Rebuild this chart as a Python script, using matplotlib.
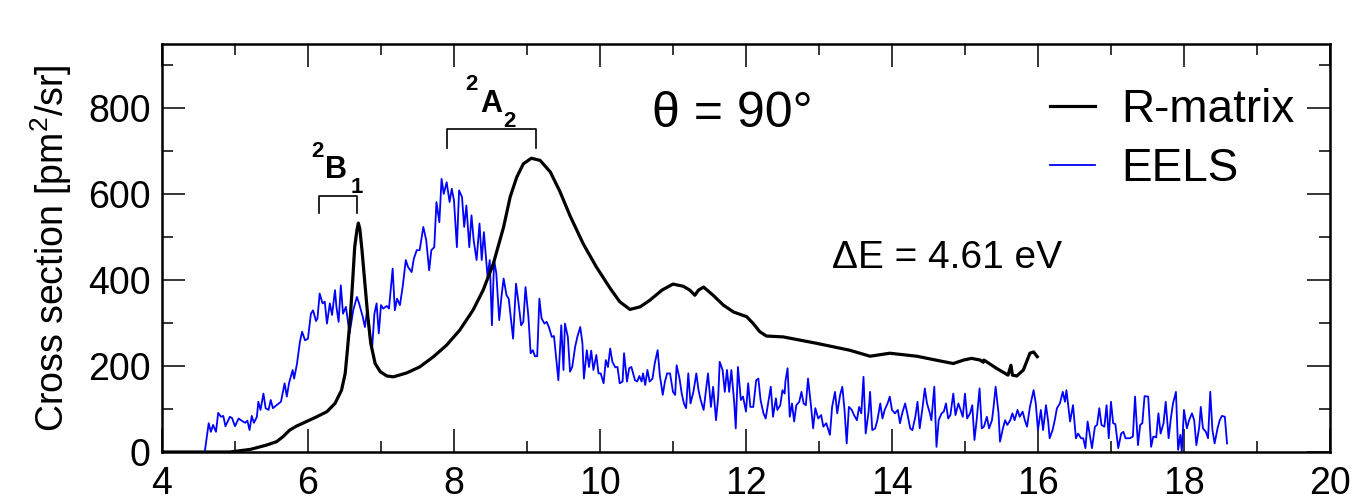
import matplotlib
matplotlib.use("Agg")
import matplotlib.pyplot as plt
from matplotlib.ticker import MultipleLocator

plt.rcParams['font.family'] = ['Liberation Sans', 'DejaVu Sans']
plt.rcParams['mathtext.fontset'] = 'custom'
plt.rcParams['mathtext.rm'] = 'Liberation Sans'
plt.rcParams['mathtext.default'] = 'regular'

# R-matrix cross section (eV, pm^2/sr)
rm_energy = [4.0, 4.5, 4.93, 5.21, 5.43, 5.57, 5.66, 5.75, 5.84, 5.98,
             6.12, 6.26, 6.37, 6.46, 6.51, 6.54, 6.58, 6.61, 6.64, 6.67,
             6.69, 6.71, 6.74, 6.78, 6.82, 6.86, 6.92, 6.99, 7.08, 7.17,
             7.35, 7.53, 7.72, 7.90, 8.08, 8.26, 8.40, 8.54, 8.68, 8.77,
             8.86, 8.95, 9.06, 9.18, 9.32, 9.45, 9.59, 9.77, 9.95,
             10.14, 10.27, 10.41, 10.55, 10.68, 10.85, 11.00, 11.14, 11.23, 11.30,
             11.35, 11.42, 11.55, 11.69, 11.83, 12.01, 12.10, 12.19, 12.28, 12.51,
             12.97, 13.42, 13.70, 13.97, 14.34, 14.66, 14.84, 14.98, 15.09, 15.21,
             15.25, 15.26, 15.43, 15.59, 15.63, 15.65, 15.71, 15.80, 15.89, 15.94,
             15.99]
rm_xs = [0, 0, 0, 6, 16, 24, 36, 51, 60, 71,
         82, 94, 113, 144, 183, 237, 315, 392, 477, 516,
         533, 520, 470, 392, 315, 253, 206, 187, 177, 175,
         184, 198, 222, 249, 284, 330, 377, 439, 524, 594,
         640, 671, 684, 679, 652, 607, 550, 485, 431,
         381, 350, 332, 338, 353, 377, 391, 386, 377, 365,
         377, 384, 365, 342, 326, 315, 299, 280, 270, 268,
         253, 237, 223, 230, 223, 212, 206, 214, 218, 214,
         209, 214, 195, 179, 202, 179, 177, 191, 230, 233,
         222]

# EELS measurement
eels_energy = [
    4.59, 4.64, 4.67, 4.70, 4.74, 4.77, 4.81, 4.84, 4.87, 4.93, 4.96, 5.00, 5.05, 5.09, 5.14, 5.17, 5.20, 5.23, 5.26, 5.30,
    5.32, 5.35, 5.39, 5.42, 5.46, 5.49, 5.52, 5.57, 5.63, 5.68, 5.71, 5.74, 5.79, 5.81, 5.85, 5.89, 5.92, 5.96, 6.00, 6.04,
    6.07, 6.11, 6.13, 6.16, 6.20, 6.23, 6.26, 6.30, 6.33, 6.37, 6.39, 6.42, 6.45,
    6.48, 6.52, 6.57, 6.62, 6.67, 6.70, 6.75, 6.78, 6.81, 6.85, 6.88, 6.91, 6.94, 6.97, 7.00, 7.03, 7.08, 7.11, 7.16, 7.19,
    7.22, 7.26, 7.30, 7.34, 7.37, 7.42, 7.45, 7.49, 7.53, 7.58, 7.62, 7.66, 7.69, 7.73, 7.76, 7.80, 7.83, 7.86, 7.90, 7.94,
    7.97, 8.00, 8.04, 8.07, 8.11, 8.14, 8.17, 8.21, 8.24, 8.27, 8.31, 8.35, 8.38, 8.41,
    8.46, 8.49, 8.52, 8.55, 8.58, 8.62, 8.65, 8.68, 8.72, 8.75, 8.81, 8.85, 8.88, 8.92, 8.95, 8.98, 9.02, 9.05, 9.08, 9.11,
    9.14, 9.17, 9.20, 9.24, 9.27, 9.30, 9.34, 9.37, 9.43, 9.47, 9.50, 9.52, 9.56, 9.59, 9.62, 9.66, 9.69, 9.73, 9.76, 9.78,
    9.82, 9.85, 9.88, 9.91, 9.95, 9.98, 10.01, 10.05, 10.08, 10.11, 10.14, 10.17, 10.21, 10.24, 10.27, 10.31, 10.33, 10.37, 10.40, 10.43,
    10.48, 10.51, 10.54, 10.57, 10.59, 10.62, 10.65, 10.68, 10.72, 10.75, 10.79, 10.82, 10.86, 10.89, 10.92, 10.96, 11.00, 11.03, 11.05, 11.09,
    11.12, 11.15, 11.18, 11.21, 11.24, 11.28, 11.32, 11.35, 11.38, 11.42, 11.45, 11.48, 11.52, 11.55, 11.59, 11.62, 11.64, 11.68, 11.71, 11.74,
    11.77, 11.80, 11.84, 11.86, 11.89, 11.93, 11.96, 12.00, 12.03, 12.06, 12.10, 12.14, 12.17, 12.20, 12.24, 12.27, 12.31, 12.34, 12.37, 12.41,
    12.43,
    12.47, 12.50, 12.53, 12.54, 12.57, 12.60, 12.63, 12.66, 12.69, 12.73, 12.76, 12.79, 12.82, 12.85, 12.89, 12.92, 12.95, 12.99, 13.03, 13.06,
    13.10, 13.13, 13.15, 13.18, 13.22, 13.25, 13.29, 13.32, 13.35, 13.38, 13.41, 13.45, 13.48, 13.52, 13.55, 13.58, 13.61, 13.64, 13.68, 13.70,
    13.73, 13.77, 13.80, 13.84, 13.87, 13.90, 13.94, 13.97, 14.00, 14.04, 14.08, 14.11, 14.14, 14.18, 14.21, 14.25, 14.28, 14.32, 14.35, 14.38,
    14.42,
    14.45, 14.48, 14.52, 14.54, 14.58, 14.61, 14.64, 14.68, 14.71, 14.74, 14.77, 14.80, 14.84, 14.87, 14.91, 14.94, 14.97, 15.00, 15.03, 15.07,
    15.10, 15.13, 15.16, 15.20, 15.23, 15.26, 15.30, 15.33, 15.37, 15.39, 15.42, 15.46, 15.48, 15.52, 15.55, 15.58, 15.62, 15.65, 15.68, 15.72,
    15.75, 15.79, 15.82, 15.85, 15.89, 15.94, 15.97, 16.00, 16.04, 16.07, 16.11, 16.14, 16.16, 16.20, 16.23, 16.26, 16.30, 16.34, 16.37, 16.39,
    16.44, 16.48, 16.52, 16.55, 16.59, 16.62, 16.65, 16.68, 16.71, 16.74, 16.78, 16.81, 16.84, 16.87, 16.91, 16.94, 16.97, 17.00, 17.03, 17.06,
    17.10, 17.14, 17.17, 17.20, 17.26, 17.30, 17.33, 17.37, 17.40, 17.43, 17.46, 17.51, 17.55, 17.58, 17.62, 17.65, 17.68, 17.72, 17.75, 17.79,
    17.82, 17.85, 17.89, 17.92, 17.95, 17.97, 18.00, 18.04, 18.07, 18.11, 18.14, 18.17, 18.21, 18.23, 18.26, 18.30, 18.33, 18.36, 18.39, 18.42,
    18.46, 18.49, 18.52, 18.56, 18.59]
eels_xs = [
    5, 67, 47, 63, 47, 91, 82, 84, 60, 82, 79, 60, 78, 73, 68, 73, 51, 84, 68, 82,
    117, 98, 136, 102, 98, 121, 102, 109, 117, 160, 129, 160, 191, 171, 206, 257, 280, 260, 264, 322,
    330, 305, 311, 369, 346, 350, 299, 346, 319, 377, 338, 303, 388,
    322, 338, 276, 330, 361, 346, 315, 291, 330, 268, 245, 322, 346, 276, 342, 334, 340, 334, 427, 330,
    357, 342, 388, 447, 431, 419, 450, 470, 470, 524, 493, 423, 470, 477, 582, 535, 636, 601, 628, 582,
    613, 586, 477, 609, 594, 524, 574, 477, 551, 493, 447, 532, 447, 512,
    408, 447, 295, 447, 416, 307, 361, 404, 365, 357, 264, 392, 353, 295, 303, 384, 315, 230, 237, 223,
    223, 357, 311, 299, 303, 291, 268, 270, 167, 295, 191, 299, 268, 187, 198, 245, 268, 291, 253, 171,
    237, 198, 236, 191, 226, 183, 183, 160, 214, 198, 241, 210, 197, 198, 160, 164, 230, 164, 195, 198,
    167, 164, 177, 164, 183, 156, 191, 164, 171, 206, 237, 179, 133, 164, 183, 183, 140, 133, 202, 171,
    136, 113, 102, 183, 113, 140, 183, 144, 121, 98, 140, 183, 105, 152, 74, 129, 210, 191, 140, 191,
    140, 191, 113, 55, 198, 121, 129, 94, 160, 105, 105, 167, 171, 121, 90, 78, 121, 152, 82, 125,
    98,
    109, 144, 136, 164, 195, 82, 113, 71, 109, 117, 140, 113, 109, 171, 109, 55, 102, 78, 86, 59,
    67, 51, 40, 105, 140, 90, 133, 152, 98, 20, 105, 98, 86, 74, 105, 90, 175, 43, 94, 140,
    51, 55, 74, 113, 78, 98, 113, 129, 98, 90, 98, 67, 90, 113, 90, 55, 51, 82, 117, 55,
    105,
    148, 113, 90, 74, 152, 12, 74, 90, 94, 113, 78, 86, 136, 86, 113, 98, 82, 136, 78, 90,
    109, 28, 74, 148, 55, 59, 82, 55, 74, 102, 152, 90, 24, 55, 74, 63, 74, 90, 74, 98,
    82, 94, 74, 59, 105, 144, 113, 51, 98, 51, 109, 71, 32, 51, 74, 102, 113, 140, 117, 144,
    71, 109, 32, 43, 32, 32, 9, 71, 40, 9, 59, 63, 102, 63, 59, 109, 32, 117, 67, 65,
    9, 43, 47, 32, 32, 36, 129, 16, 63, 67, 130, 129, 12, 36, 34, 90, 43, 67, 117, 32,
    78, 113, 140, 5, 40, 1, 98, 55, 74, 90, 74, 16, 59, 105, 55, 47, 32, 140, 51, 20,
    55, 74, 84, 82, 20]

# resonance brackets
b1_x = [6.15, 6.15, 6.67, 6.67]
b1_y = [556, 595, 595, 556]
a2_x = [7.90, 7.90, 9.12, 9.12]
a2_y = [707, 751, 751, 707]

fig = plt.figure(figsize=(13.52, 5.03), dpi=100)
ax = fig.add_axes([0.1198, 0.1014, 0.8639, 0.8111])

ax.plot(rm_energy, rm_xs, color='black', lw=2.3, label='R-matrix', zorder=3,
        solid_joinstyle='round')
ax.plot(eels_energy, eels_xs, color='#0000ff', lw=1.3, label='EELS', zorder=2)

ax.plot(b1_x, b1_y, color='black', lw=1.2)
ax.plot(a2_x, a2_y, color='black', lw=1.2)

# state labels: superscript multiplicity, symmetry letter, subscript
bold = dict(fontweight='bold', ha='left', va='baseline')
ax.text(6.04, 686, '2', fontsize=16, **bold)
ax.text(6.23, 637, 'B', fontsize=22, **bold)
ax.text(6.58, 602, '1', fontsize=16, **bold)
ax.text(8.15, 842, '2', fontsize=16, **bold)
ax.text(8.36, 791, 'A', fontsize=22, **bold)
ax.text(8.68, 756, '2', fontsize=16, **bold)

ax.text(10.71, 756, 'θ = 90°', fontsize=36, ha='left', va='baseline')
ax.text(13.18, 428, 'ΔE = 4.61 eV', fontsize=28, ha='left', va='baseline')

ax.set_xlim(4, 20)
ax.set_ylim(0, 950)
ax.xaxis.set_major_locator(MultipleLocator(2))
ax.xaxis.set_minor_locator(MultipleLocator(1))
ax.yaxis.set_major_locator(MultipleLocator(200))
ax.yaxis.set_minor_locator(MultipleLocator(100))
ax.tick_params(which='both', direction='in', top=True, right=True, width=1.1,
               labelsize=27)
ax.tick_params(which='major', length=16.5)
ax.tick_params(which='minor', length=8)
ax.tick_params(axis='x', pad=10)
ax.tick_params(axis='y', pad=8)
for sp in ax.spines.values():
    sp.set_linewidth(1.8)

ax.set_ylabel('Cross section [pm$^2$/sr]', fontsize=27)
ax.yaxis.set_label_coords(-0.075, 0.5)

ax.legend(loc='upper left', bbox_to_anchor=(0.760, 0.893), frameon=False,
          fontsize=33, handlelength=1.0, handletextpad=0.57, labelspacing=0.34,
          borderpad=0, borderaxespad=0)

fig.savefig('out.png', dpi=100)
